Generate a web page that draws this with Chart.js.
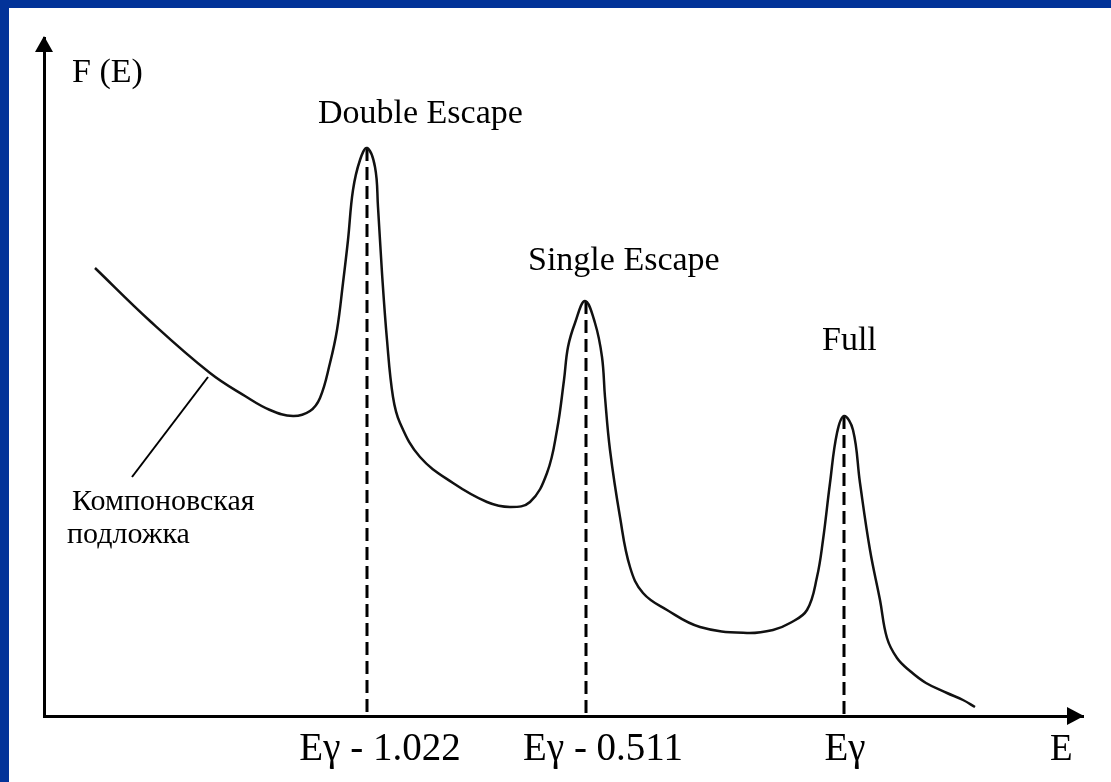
<!DOCTYPE html>
<html>
<head>
<meta charset="utf-8">
<script src="https://cdn.jsdelivr.net/npm/chart.js@4"></script>
<style>
  html, body { margin: 0; padding: 0; background: #023399; overflow: hidden; }
  #wrap { position: absolute; left: 9px; top: 8px; width: 1102px; height: 774px; background: #fff; }
</style>
</head>
<body>
<div id="wrap"><canvas id="myChart"></canvas></div>
<script>
// spectrum (energy in arbitrary channels, counts in arbitrary units)
const energy = [51, 106, 166, 201, 226, 249, 266, 276, 286, 293, 299, 304, 309, 316, 323,
  331, 334, 338, 343, 349, 356, 376, 409, 443, 466, 486, 503, 513, 520, 524, 531, 541,
  551, 558, 561, 566, 576, 586, 599, 623, 656, 703, 729, 746, 763, 773, 779, 786, 793,
  800, 809, 816, 826, 836, 843, 853, 866, 882, 903, 919, 931];
const counts = [448, 395, 343, 320, 306, 300, 305, 318, 353, 386, 433, 476, 526, 556, 568,
  549, 509, 443, 376, 319, 293, 259, 233, 214, 209, 214, 243, 286, 336, 369, 393, 415,
  393, 359, 319, 266, 199, 149, 123, 106, 89, 83, 86, 93, 106, 139, 176, 233, 283,
  300, 286, 233, 166, 116, 78, 58, 45, 33, 23, 16, 9];

const peakPos = [323, 542, 800];
const peakHeight = [568, 415, 300];
const tickPos = [336, 559, 801];
const tickLabels = ['Eγ - 1.022', 'Eγ - 0.511', 'Eγ'];
const peakNames = ['Double Escape', 'Single Escape', 'Full'];

const ctx = document.getElementById("myChart").getContext("2d");
const serif = "'Liberation Serif', 'Times New Roman', serif";

// text notes placed in data coordinates
const notes = [
  { text: 'F (E)', x: 28, y: 634, w: 73 },
  { text: peakNames[0], x: 274, y: 593 },
  { text: peakNames[1], x: 484, y: 446 },
  { text: peakNames[2], x: 778, y: 366 },
  { text: 'E', x: 1006, y: -44, size: 37 },
  { text: 'Компоновская', x: 28, y: 206, size: 30, w: 188 },
  { text: 'подложка', x: 23, y: 173, size: 30, w: 126 }
];

const overlay = {
  id: 'overlay',
  afterDraw(chart) {
    const { ctx, chartArea: a, scales: { x, y } } = chart;
    ctx.save();
    ctx.fillStyle = '#000';
    ctx.strokeStyle = '#000';

    // arrow heads
    ctx.beginPath();
    ctx.moveTo(a.left, a.top - 2);
    ctx.lineTo(a.left - 9, a.top + 14);
    ctx.lineTo(a.left + 9, a.top + 14);
    ctx.closePath();
    ctx.fill();
    ctx.beginPath();
    ctx.moveTo(a.right + 1, a.bottom);
    ctx.lineTo(a.right - 16, a.bottom - 9);
    ctx.lineTo(a.right - 16, a.bottom + 9);
    ctx.closePath();
    ctx.fill();

    // leader to the compton background
    ctx.lineWidth = 2;
    ctx.beginPath();
    ctx.moveTo(x.getPixelForValue(88), y.getPixelForValue(239));
    ctx.lineTo(x.getPixelForValue(164), y.getPixelForValue(339));
    ctx.stroke();

    ctx.textBaseline = 'alphabetic';
    ctx.textAlign = 'left';
    notes.forEach(n => {
      ctx.font = (n.size || 34) + 'px ' + serif;
      ctx.fillText(n.text, x.getPixelForValue(n.x), y.getPixelForValue(n.y), n.w);
    });
    ctx.restore();
  }
};

const datasets = [
  {
    data: energy.map((e, i) => ({ x: e, y: counts[i] })),
    borderColor: '#111',
    borderWidth: 2.5,
    pointRadius: 0,
    tension: 0.4,
    clip: false
  }
];
peakPos.forEach((p, i) => {
  datasets.push({
    data: [{ x: p, y: peakHeight[i] }, { x: p, y: 0 }],
    borderColor: '#000',
    borderWidth: 3,
    borderDash: [13, 6],
    pointRadius: 0,
    tension: 0,
    clip: false
  });
});

const config = {
  type: 'line',
  data: { datasets },
  options: {
    responsive: true,
    maintainAspectRatio: false,
    animation: false,
    layout: { padding: { left: 35, top: 30, right: 28, bottom: 0 } },
    plugins: {
      legend: { display: false },
      tooltip: { enabled: false }
    },
    scales: {
      x: {
        type: 'linear',
        min: 0,
        max: 1039,
        grid: { display: false, drawTicks: false },
        border: { color: '#000', width: 3 },
        afterBuildTicks: s => { s.ticks = tickPos.map(v => ({ value: v })); },
        afterFit: s => { s.height = 66; },
        ticks: {
          color: '#000',
          autoSkip: false,
          maxRotation: 0,
          padding: 10,
          font: { family: serif, size: 39 },
          callback: (v, i) => tickLabels[i]
        }
      },
      y: {
        type: 'linear',
        min: 0,
        max: 678,
        grid: { display: false, drawTicks: false },
        border: { color: '#000', width: 3 },
        ticks: { display: false },
        afterFit: s => { s.width = 0; }
      }
    }
  },
  plugins: [overlay]
};

const myChart = new Chart(ctx, config);
</script>
</body>
</html>
